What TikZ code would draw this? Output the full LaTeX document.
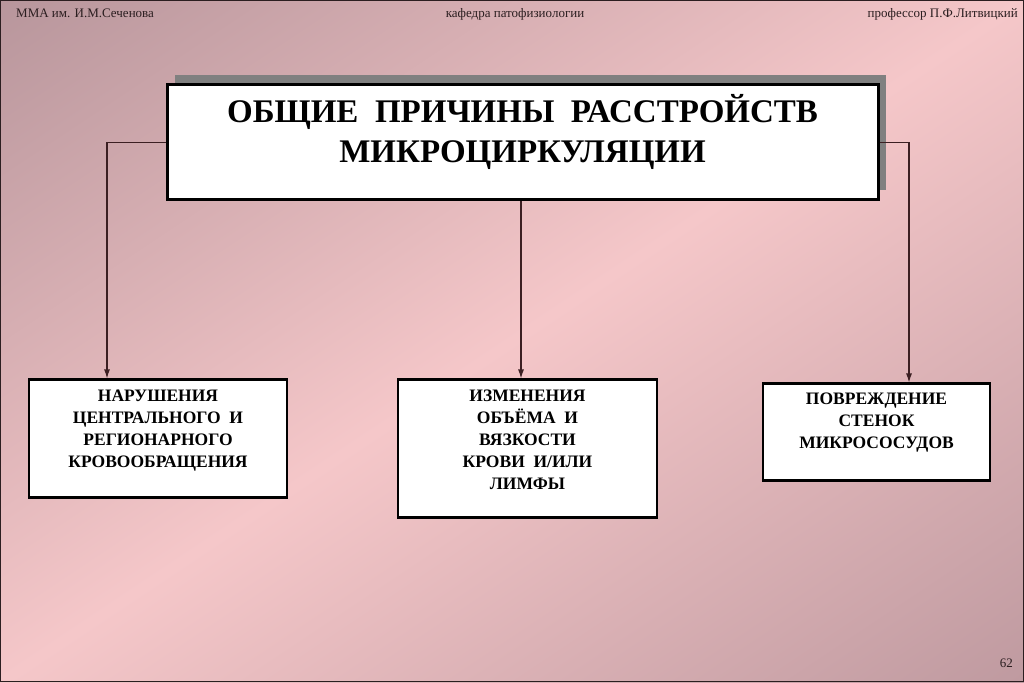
\documentclass[tikz,border=0pt]{standalone}
\usepackage{fontspec}
\setmainfont{Liberation Serif}
\usepackage{tikz}
\usetikzlibrary{arrows.meta, positioning, shadows}

\definecolor{mauvetop}{HTML}{B8969C}
\definecolor{pinkmid}{HTML}{F5C7C9}
\definecolor{mauvebot}{HTML}{BF9AA0}
\definecolor{linecol}{HTML}{3B1F22}
\definecolor{darktext}{HTML}{2B1E20}
\definecolor{shadowgray}{HTML}{808080}

\begin{document}
\begin{tikzpicture}[
  x=1pt, y=1pt,
  headbox/.style={rectangle, draw, line width=3pt, fill=white, inner sep=0pt,
    minimum width=711pt, minimum height=115pt, align=center,
    font=\bfseries\fontsize{33}{40}\selectfont,
    drop shadow={shadow xshift=7.5pt, shadow yshift=9.5pt, fill=shadowgray, opacity=1}},
  cause/.style={rectangle, draw, line width=2.5pt, fill=white, inner sep=0pt,
    align=center, font=\bfseries\fontsize{17.5}{22}\selectfont},
  edge/.style={-{Latex[length=9pt, width=6pt]}, line width=1.2pt, draw=linecol},
  corner/.style={font=\fontsize{13}{15}\selectfont, text=darktext, inner sep=0pt}
]
\useasboundingbox (0,0) rectangle (1024,682);

% background
\begin{scope}
  \clip (0,0) rectangle (1024,682);
  \shade[top color=mauvetop, bottom color=mauvebot, middle color=pinkmid, shading angle=33.7]
    (-56,-227) rectangle (1080,909);
\end{scope}
\draw[line width=1pt, draw=darktext] (0.5,0.5) rectangle (1023.5,681.5);

\node[corner, anchor=base west] (mma) at (16,664) {ММА им. И.М.Сеченова};
\node[corner, anchor=base] (dept) at (515,664) {кафедра патофизиологии};
\node[corner, anchor=base east] (prof) at (1018,664) {профессор П.Ф.Литвицкий};
\node[corner, anchor=base east] (page) at (1013,15) {62};

\node[headbox, text height=70pt, text depth=29pt] (title) at (522.5,539.5)
  {ОБЩИЕ\ \ ПРИЧИНЫ\ \ РАССТРОЙСТВ\\МИКРОЦИРКУЛЯЦИИ};

\node[cause, minimum width=258pt, minimum height=118pt, text height=78pt, text depth=20pt,
  below=177pt of title, xshift=-364.5pt] (flow)
  {НАРУШЕНИЯ\\ЦЕНТРАЛЬНОГО\ \ И\\РЕГИОНАРНОГО\\КРОВООБРАЩЕНИЯ};
\node[cause, minimum width=259pt, minimum height=138pt, text height=100pt, text depth=18pt,
  below=177pt of title, xshift=5pt] (blood)
  {ИЗМЕНЕНИЯ\\ОБЪЁМА\ \ И\\ВЯЗКОСТИ\\КРОВИ\ \ И/ИЛИ\\ЛИМФЫ};
\node[cause, minimum width=227pt, minimum height=97pt, text height=55pt, text depth=22pt,
  below=181pt of title, xshift=354pt] (wall)
  {ПОВРЕЖДЕНИЕ\\СТЕНОК\\МИКРОСОСУДОВ};

\draw[edge] (title.west) -| ([xshift=-51pt]flow.north);
\draw[edge] ([xshift=-1.5pt]title.south) -- ([xshift=-1.5pt]title.south |- blood.north);
\draw[edge] (title.east) -| ([xshift=32.5pt]wall.north);
\end{tikzpicture}
\end{document}
